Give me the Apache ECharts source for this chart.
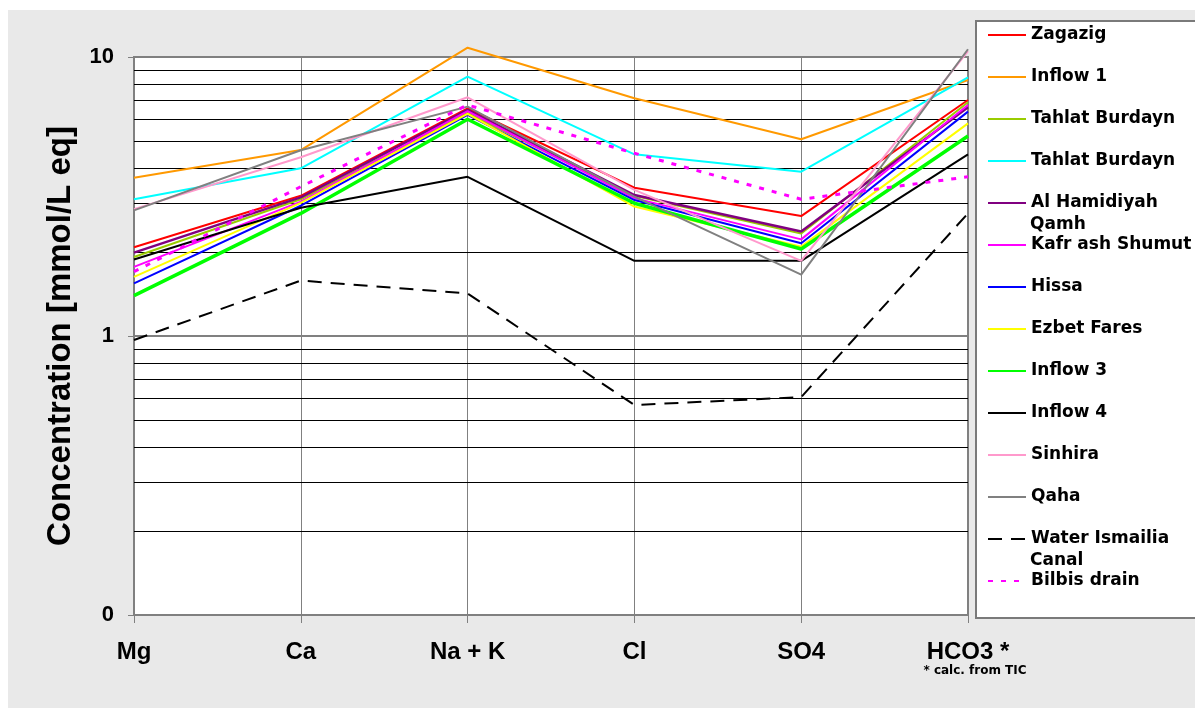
<!DOCTYPE html>
<html>
<head>
<meta charset="utf-8">
<script src="https://cdn.jsdelivr.net/npm/echarts@6/dist/echarts.min.js"></script>
<style>
html,body{margin:0;padding:0;background:#fff;}
#chart{width:1195px;height:713px;}
</style>
</head>
<body>
<div id="chart"></div>
<script>
// ---- Data ----
const categories = ['Mg', 'Ca', 'Na + K', 'Cl', 'SO4', 'HCO3 *'];
const yTickValues = [0.1, 1, 10];
const minorGridValues = [0.2, 0.3, 0.4, 0.5, 0.6, 0.7, 0.8, 0.9, 2, 3, 4, 5, 6, 7, 8, 9];

const zagazig      = [2.08, 3.18, 6.55, 3.40, 2.69, 7.01];
const inflow1      = [3.69, 4.64, 10.8, 7.11, 5.07, 8.27];
const tahlatA      = [1.92, 3.09, 6.30, 3.18, 2.33, 6.88];
const tahlatB      = [3.09, 3.99, 8.50, 4.48, 3.88, 8.46];
const hamidiyah    = [1.99, 3.14, 6.46, 3.20, 2.37, 6.60];
const kafr         = [1.77, 3.03, 6.40, 3.12, 2.22, 6.73];
const hissa        = [1.545, 2.93, 6.20, 3.07, 2.15, 6.37];
const ezbet        = [1.63, 3.00, 6.25, 2.91, 2.09, 5.78];
const inflow3      = [1.395, 2.75, 5.98, 2.99, 2.05, 5.21];
const inflow4      = [1.88, 2.88, 3.72, 1.86, 1.86, 4.48];
const sinhira      = [2.85, 4.37, 7.17, 3.34, 1.86, 10.5];
const qaha         = [2.82, 4.63, 6.64, 3.16, 1.66, 10.66];
const ismailia     = [0.968, 1.58, 1.42, 0.566, 0.604, 2.75];
const bilbis       = [1.70, 3.43, 6.73, 4.52, 3.09, 3.72];

const seriesNames = ['Zagazig', 'Inflow 1', 'Tahlat Burdayn', 'Tahlat Burdayn ', 'Al Hamidiyah Qamh',
  'Kafr ash Shumut', 'Hissa', 'Ezbet Fares', 'Inflow 3', 'Inflow 4', 'Sinhira', 'Qaha',
  'Water Ismailia Canal', 'Bilbis drain'];
const seriesValues = [zagazig, inflow1, tahlatA, tahlatB, hamidiyah, kafr, hissa, ezbet,
  inflow3, inflow4, sinhira, qaha, ismailia, bilbis];
const seriesStyles = [
  {color: '#FF0000', width: 2},
  {color: '#FF9900', width: 2},
  {color: '#99CC00', width: 2},
  {color: '#00FFFF', width: 2},
  {color: '#800080', width: 2.5},
  {color: '#FF00FF', width: 2},
  {color: '#0000FF', width: 2},
  {color: '#FFFF00', width: 2},
  {color: '#00FF00', width: 3.5},
  {color: '#000000', width: 2},
  {color: '#FF99CC', width: 2},
  {color: '#808080', width: 2},
  {color: '#000000', width: 2, type: [14, 9]},
  {color: '#FF00FF', width: 3, type: [5, 8]}
];
// Legend display text (first line) and wrapped second lines
const legendFirstLine = {'Al Hamidiyah Qamh': 'Al Hamidiyah', 'Water Ismailia Canal': 'Water Ismailia'};
const legendSecondLine = {'Al Hamidiyah Qamh': 'Qamh', 'Water Ismailia Canal': 'Canal'};

// ---- Layout ----
const LEG_LEFT = 987, LEG_TOP = 25, LEG_ITEM_H = 20, LEG_GAP = 22;
const FONT = 'Liberation Sans, Arial, sans-serif';
const LEG_FONT = 'DejaVu Sans, Liberation Sans, sans-serif';

const chart = echarts.init(document.getElementById('chart'), null, {renderer: 'canvas'});

const series = seriesNames.map((name, i) => {
  const st = seriesStyles[i];
  const s = {
    name: name,
    type: 'line',
    data: seriesValues[i],
    symbol: 'none',
    showSymbol: false,
    clip: false,
    z: 2,
    lineStyle: {color: st.color, width: st.width, type: st.type || 'solid'},
    itemStyle: {color: st.color},
    emphasis: {disabled: true}
  };
  if (i === 0) {
    s.markLine = {
      silent: true,
      symbol: ['none', 'none'],
      z: 1,
      label: {show: false},
      lineStyle: {color: '#000', width: 1, type: 'solid'},
      emphasis: {disabled: true},
      animation: false,
      data: minorGridValues.map(v => ({yAxis: v}))
    };
  }
  return s;
});

const graphics = [
  {type: 'rect', z: -100, silent: true, shape: {x: 8, y: 10, width: 1190, height: 698}, style: {fill: '#e9e9e9'}},
  {type: 'rect', z: 3, silent: true, shape: {x: 976, y: 21, width: 230, height: 597},
    style: {fill: '#ffffff', stroke: '#7a7a7a', lineWidth: 2}}
];
seriesNames.forEach((name, i) => {
  if (legendSecondLine[name]) {
    graphics.push({
      type: 'text', z: 5, silent: true,
      style: {
        text: legendSecondLine[name],
        x: LEG_LEFT + 38 + 5,
        y: LEG_TOP + LEG_ITEM_H / 2 + i * (LEG_ITEM_H + LEG_GAP) + 22,
        verticalAlign: 'middle',
        font: 'bold 17px ' + LEG_FONT,
        fill: '#000'
      }
    });
  }
});

const option = {
  animation: false,
  backgroundColor: '#ffffff',
  textStyle: {fontFamily: FONT},
  grid: {
    left: 134, right: 227, top: 57, bottom: 98,
    show: true, backgroundColor: '#ffffff', borderColor: '#808080', borderWidth: 2
  },
  xAxis: {
    type: 'category',
    data: categories,
    boundaryGap: false,
    axisLine: {show: true, lineStyle: {color: '#808080', width: 2}},
    axisTick: {show: true, length: 8, lineStyle: {color: '#808080', width: 1}},
    splitLine: {show: true, lineStyle: {color: '#808080', width: 1}},
    axisLabel: {
      margin: 23,
      color: '#000',
      formatter: function (v) {
        return v === 'HCO3 *' ? '{m|' + v + '}\n{s|* calc. from TIC}' : '{m|' + v + '}';
      },
      rich: {
        m: {fontSize: 24, fontWeight: 'bold', fontFamily: FONT, lineHeight: 28, color: '#000'},
        s: {fontSize: 12, fontWeight: 'bold', fontFamily: 'DejaVu Sans', lineHeight: 10, color: '#000', padding: [0, 0, 0, 14]}
      }
    }
  },
  yAxis: {
    type: 'log',
    logBase: 10,
    min: yTickValues[0],
    max: yTickValues[yTickValues.length - 1],
    name: 'Concentration [mmol/L eq]',
    nameLocation: 'middle',
    nameGap: 57,
    nameTextStyle: {fontSize: 33, fontWeight: 'bold', color: '#000', fontFamily: FONT},
    axisLine: {show: true, lineStyle: {color: '#808080', width: 2}},
    axisTick: {show: true, length: 6, lineStyle: {color: '#808080', width: 1}},
    splitLine: {show: true, lineStyle: {color: '#808080', width: 2}},
    minorTick: {show: false},
    minorSplitLine: {show: false},
    axisLabel: {
      margin: 20,
      fontSize: 22,
      fontWeight: 'bold',
      color: '#000',
      fontFamily: FONT,
      formatter: function (v) { return v < 1 ? '0' : String(Math.round(v)); }
    }
  },
  legend: {
    orient: 'vertical',
    left: LEG_LEFT,
    top: LEG_TOP,
    padding: 0,
    itemWidth: 38,
    itemHeight: 14,
    itemGap: LEG_GAP,
    selectedMode: false,
    z: 6,
    data: seriesNames,
    itemStyle: {opacity: 0},
    formatter: function (name) { return legendFirstLine[name] || name; },
    textStyle: {fontSize: 17, fontWeight: 'bold', color: '#000', lineHeight: LEG_ITEM_H, fontFamily: LEG_FONT}
  },
  graphic: graphics,
  series: series
};
chart.setOption(option);
</script>
</body>
</html>
